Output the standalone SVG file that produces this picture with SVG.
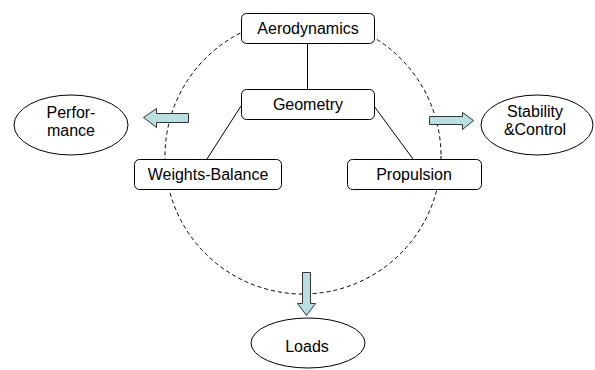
<svg xmlns="http://www.w3.org/2000/svg" width="595" height="370" viewBox="0 0 595 370">
<style>
.box{fill:#fff;stroke:#000;stroke-width:1}
.ell{fill:#fff;stroke:#000;stroke-width:1}
.t{font-family:"Liberation Sans",Arial,sans-serif;font-size:16px;fill:#000;text-anchor:middle}
.ln{stroke:#000;stroke-width:1;fill:none}
.dash{stroke:#000;stroke-width:1;fill:none;stroke-dasharray:4 3}
.arr{fill:#b9dfe0;stroke:#333;stroke-width:1}
</style>
<rect width="595" height="370" fill="#fff"/>
<g id="connectors">
<circle class="dash" cx="303" cy="156" r="138"/>
<line class="ln" x1="307.5" y1="43" x2="307.5" y2="89"/>
<line class="ln" x1="241" y1="106" x2="207" y2="159"/>
<line class="ln" x1="374" y1="106" x2="413" y2="159"/>
<polygon class="arr" points="143.5,117.5 156.5,108.5 156.5,113.5 188.5,113.5 188.5,122.5 156.5,122.5 156.5,127.5"/>
<polygon class="arr" points="473.5,120.5 462.5,112.5 462.5,116.5 429.5,116.5 429.5,124.5 462.5,124.5 462.5,129.5"/>
<polygon class="arr" points="306.5,315.5 297.5,303.5 302.5,303.5 302.5,272.5 310.5,272.5 310.5,303.5 315.5,303.5"/>
</g>
<g id="aerodynamics">
<rect class="box" x="241.5" y="13.5" width="133" height="30" rx="5"/>
<text class="t" x="308" y="34">Aerodynamics</text>
</g>
<g id="geometry">
<rect class="box" x="241.5" y="89.5" width="133" height="30" rx="5"/>
<text class="t" x="308" y="110">Geometry</text>
</g>
<g id="weights-balance">
<rect class="box" x="134.5" y="159.5" width="147" height="30" rx="5"/>
<text class="t" x="208" y="180">Weights-Balance</text>
</g>
<g id="propulsion">
<rect class="box" x="347.5" y="159.5" width="134" height="30" rx="5"/>
<text class="t" x="414" y="180">Propulsion</text>
</g>
<g id="performance">
<ellipse class="ell" cx="71" cy="125" rx="57" ry="30"/>
<text class="t" x="71" y="118">Perfor-</text>
<text class="t" x="71" y="136">mance</text>
</g>
<g id="stability-control">
<ellipse class="ell" cx="537" cy="125" rx="56" ry="30"/>
<text class="t" x="535" y="117">Stability</text>
<text class="t" x="535" y="135">&amp;Control</text>
</g>
<g id="loads">
<ellipse class="ell" cx="308" cy="343" rx="57" ry="25"/>
<text class="t" x="307" y="352">Loads</text>
</g>
</svg>
